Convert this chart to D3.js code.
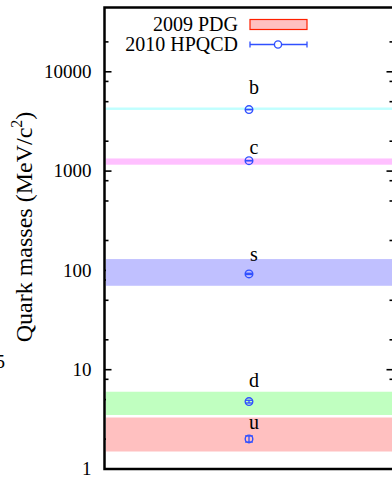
<!DOCTYPE html>
<html>
<head>
<meta charset="utf-8">
<script src="https://cdn.jsdelivr.net/npm/d3@7"></script>
<style>
  body { margin: 0; background: #fff; }
  svg { display: block; }
  text { font-family: "Liberation Serif", "DejaVu Serif", serif; fill: #000; }
</style>
</head>
<body>
<div id="chart"></div>
<script>
// PDG 2009 ranges (MeV)
const quarks = ['b', 'c', 's', 'd', 'u'];
const pdgLow = [4130, 1160, 70, 3.5, 1.5];
const pdgHigh = [4370, 1340, 130, 6.0, 3.3];
const bandColors = ['#c0ffff', '#ffc0ff', '#c0c0ff', '#c0ffc0', '#ffc0c0'];

// HPQCD 2010 (MeV)
const hpqcd = [4164, 1273, 92.2, 4.77, 2.01];
const hpqcdErr = [23, 6, 1.3, 0.15, 0.14];
// label heights (MeV) for quark names
const labelAt = [6000, 1500, 125, 6.7, 2.55];

const majorTicks = [1, 10, 100, 1000, 10000];
const minorTicks = [2, 5, 8, 20, 50, 80, 200, 500, 800, 2000, 5000, 8000, 20000];

const width = 392, height = 477;
const mLeft = 104.5, mRight = 393.5, mTop = 7.5, mBottom = 469;

const svg = d3.select('#chart').append('svg')
  .attr('width', width)
  .attr('height', height);

const y = d3.scaleLog().domain([1, 44400]).range([mBottom, mTop]);
const x = d3.scaleLinear().domain([0, 2]).range([mLeft, mRight]);

// ticks (inward, both sides)
const tickG = svg.append('g');
[[mLeft, 1], [mRight, -1]].forEach(([x0, dir]) => {
  tickG.selectAll(null).data(majorTicks).enter().append('line')
    .attr('x1', x0).attr('x2', x0 + dir * 7)
    .attr('y1', d => y(d)).attr('y2', d => y(d))
    .attr('stroke', '#000').attr('stroke-width', 1.6);
  tickG.selectAll(null).data(minorTicks).enter().append('line')
    .attr('x1', x0).attr('x2', x0 + dir * 4)
    .attr('y1', d => y(d)).attr('y2', d => y(d))
    .attr('stroke', '#000').attr('stroke-width', 1.6);
});

svg.append('g').selectAll('text').data(majorTicks).enter().append('text')
  .attr('x', mLeft - 13)
  .attr('y', d => y(d))
  .attr('dy', '0.33em')
  .attr('text-anchor', 'end')
  .attr('font-size', 19)
  .text(d => d);

// PDG bands
svg.append('g').selectAll('rect').data(quarks).enter().append('rect')
  .attr('x', mLeft + 1.5)
  .attr('width', mRight - mLeft - 1.5)
  .attr('y', (d, i) => y(pdgHigh[i]))
  .attr('height', (d, i) => y(pdgLow[i]) - y(pdgHigh[i]))
  .attr('fill', (d, i) => bandColors[i]);

// frame
svg.append('rect')
  .attr('x', mLeft).attr('y', mTop)
  .attr('width', mRight - mLeft).attr('height', mBottom - mTop)
  .attr('fill', 'none').attr('stroke', '#000').attr('stroke-width', 2.5);

// HPQCD points with error bars
const blue = '#3050ff';
const pts = svg.append('g');
quarks.forEach((q, i) => {
  const cx = x(1);
  const lo = y(hpqcd[i] - hpqcdErr[i]), hi = y(hpqcd[i] + hpqcdErr[i]);
  pts.append('line').attr('x1', cx).attr('x2', cx).attr('y1', lo).attr('y2', hi)
    .attr('stroke', blue).attr('stroke-width', 1.3);
  [lo, hi].forEach(v => pts.append('line')
    .attr('x1', cx - 4).attr('x2', cx + 4).attr('y1', v).attr('y2', v)
    .attr('stroke', blue).attr('stroke-width', 1.3));
  pts.append('circle').attr('cx', cx).attr('cy', y(hpqcd[i])).attr('r', 3.8)
    .attr('fill', 'none').attr('stroke', blue).attr('stroke-width', 1.4);
  svg.append('text')
    .attr('x', cx + 5).attr('y', y(labelAt[i]))
    .attr('text-anchor', 'middle')
    .attr('font-size', 20)
    .text(q);
});

// legend
const lg = svg.append('g');
lg.append('text').attr('x', 238).attr('y', 31).attr('text-anchor', 'end')
  .attr('font-size', 20).text('2009 PDG');
lg.append('rect').attr('x', 250).attr('y', 19.5).attr('width', 57).attr('height', 10)
  .attr('fill', '#ffc0c0').attr('stroke', '#ff2000').attr('stroke-width', 1.2);
lg.append('text').attr('x', 238).attr('y', 51).attr('text-anchor', 'end')
  .attr('font-size', 20).text('2010 HPQCD');
lg.append('line').attr('x1', 250).attr('x2', 307).attr('y1', 44.5).attr('y2', 44.5)
  .attr('stroke', blue).attr('stroke-width', 1.3);
[250, 307].forEach(v => lg.append('line').attr('x1', v).attr('x2', v)
  .attr('y1', 41.5).attr('y2', 47.5).attr('stroke', blue).attr('stroke-width', 1.3));
lg.append('circle').attr('cx', 278).attr('cy', 44.5).attr('r', 3.6)
  .attr('fill', '#fff').attr('stroke', blue).attr('stroke-width', 1.4);

// y axis title
const title = svg.append('text')
  .attr('transform', 'translate(32,227) rotate(-90)')
  .attr('text-anchor', 'middle')
  .attr('font-size', 24);
title.append('tspan').text('Quark masses (MeV/c');
title.append('tspan').attr('font-size', 16).attr('dy', -10).text('2');
title.append('tspan').attr('dy', 10).text(')');

// stray label cut at the left edge
svg.append('text').attr('x', 5).attr('y', 368).attr('text-anchor', 'end')
  .attr('font-size', 19).text('5');
</script>
</body>
</html>
